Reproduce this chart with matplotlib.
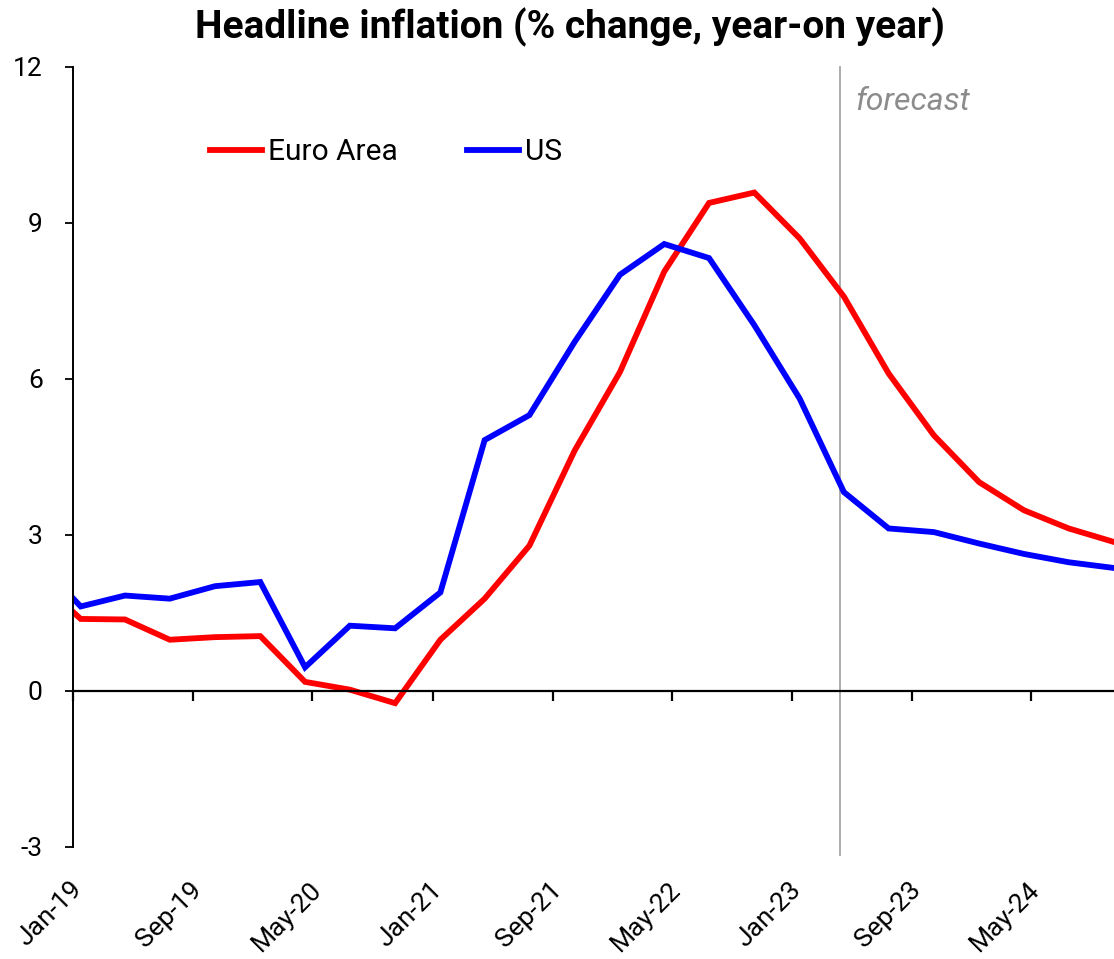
import matplotlib
matplotlib.use("Agg")
import matplotlib.pyplot as plt
import pandas as pd

plt.rcParams['font.family'] = ['Roboto', 'DejaVu Sans']

# quarterly observations (mid-month of each quarter), plus the Jan-19 start point
quarter_dates = pd.date_range("2019-01-01", "2024-10-01", freq="QS") + pd.Timedelta(days=15)
dates = [pd.Timestamp("2019-01-01")] + list(quarter_dates)

euro_area = [1.51, 1.38, 1.37, 0.98, 1.03, 1.05, 0.17, 0.02, -0.24,
             0.98, 1.77, 2.79, 4.62, 6.13, 8.06, 9.38, 9.58, 8.70,
             7.58, 6.10, 4.91, 4.01, 3.47, 3.12, 2.86]
us = [1.77, 1.62, 1.83, 1.77, 2.01, 2.09, 0.45, 1.25, 1.20,
      1.89, 4.82, 5.30, 6.71, 8.00, 8.59, 8.32, 7.03, 5.62,
      3.82, 3.12, 3.05, 2.83, 2.63, 2.47, 2.36]

forecast_start = pd.Timestamp("2023-04-09")
tick_dates = pd.to_datetime(["2019-01-01", "2019-09-01", "2020-05-01", "2021-01-01",
                             "2021-09-01", "2022-05-01", "2023-01-01", "2023-09-01",
                             "2024-05-01"])
tick_labels = ["Jan-19", "Sep-19", "May-20", "Jan-21", "Sep-21",
               "May-22", "Jan-23", "Sep-23", "May-24"]
y_ticks = [-3, 0, 3, 6, 9, 12]

fig = plt.figure(figsize=(11.14, 9.59), dpi=100)
ax = fig.add_axes([73.3 / 1114, 1 - 846.7 / 959, 1 - 73.3 / 1114, (846.7 - 66.7) / 959])

ax.plot(dates, euro_area, color="#ff0000", lw=4.2, label="Euro Area", solid_joinstyle="miter")
ax.plot(dates, us, color="#0000ff", lw=4.2, label="US", solid_joinstyle="miter")

# forecast marker
ax.plot([forecast_start, forecast_start], [12, -3.15], color="#a6a6a6", lw=1.3, clip_on=False, zorder=1)
ax.annotate("forecast", xy=(forecast_start, 11.34), xytext=(15, 0), textcoords="offset pixels",
            fontsize=23, style="italic", color="#8c8c8c", ha="left", va="center")

ax.set_xlim(dates[0], dates[-1])
ax.set_ylim(-3, 12)
ax.set_yticks(y_ticks)
ax.set_yticklabels([str(v) for v in y_ticks], fontsize=19)
ax.tick_params(axis="y", length=6, width=1.3, pad=16)

ax.spines["top"].set_visible(False)
ax.spines["right"].set_visible(False)
ax.spines["left"].set_linewidth(1.4)
ax.spines["bottom"].set_position(("data", 0))
ax.spines["bottom"].set_linewidth(1.6)

ax.set_xticks(tick_dates)
ax.set_xticklabels([])
ax.tick_params(axis="x", length=7, width=1.6, direction="out")

# rotated date labels along the bottom of the plot area
for d, lab in zip(tick_dates, tick_labels):
    ax.annotate(lab, xy=(d, 0), xycoords=("data", "axes fraction"),
                xytext=(5, -39), textcoords="offset pixels",
                rotation=45, rotation_mode="anchor", ha="right", va="center",
                fontsize=19, annotation_clip=False)

leg = ax.legend(loc="center left", bbox_to_anchor=(210 / 1114, 1 - 152 / 959),
                bbox_transform=fig.transFigure, ncol=2, frameon=False,
                fontsize=21.5, handlelength=1.75, handletextpad=0.2,
                columnspacing=2.3, borderpad=0, borderaxespad=0)

fig.text(570 / 1114, 1 - 27 / 959, "Headline inflation (% change, year-on year)",
         fontsize=28, fontweight="bold", ha="center", va="center")

fig.savefig("out.png", dpi=100)
